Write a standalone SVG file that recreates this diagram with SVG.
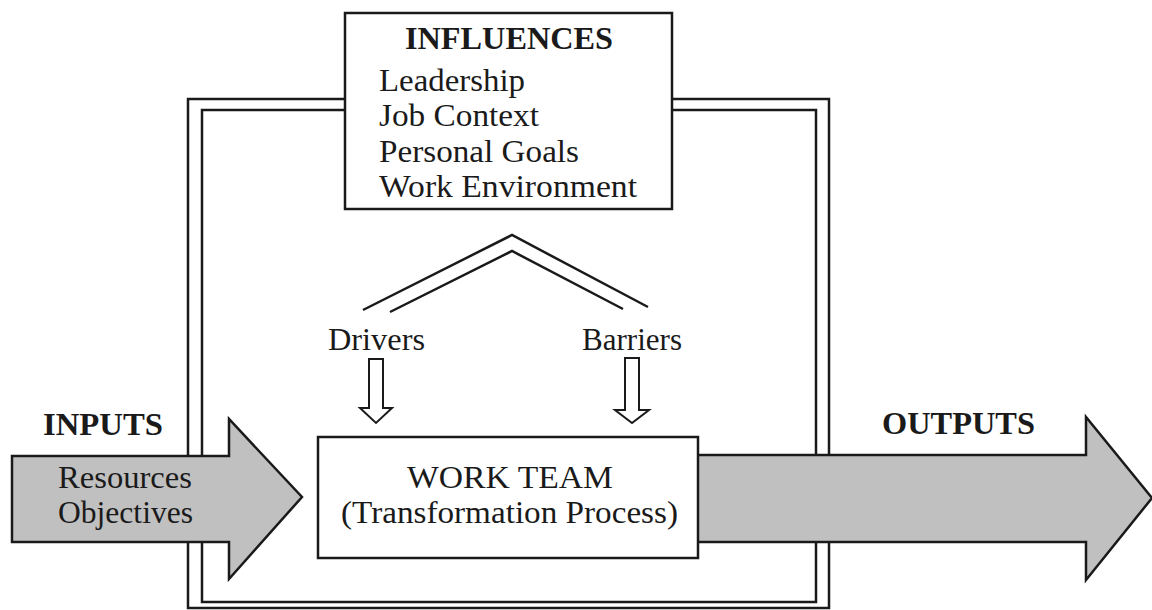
<svg xmlns="http://www.w3.org/2000/svg" width="1152" height="610" viewBox="0 0 1152 610">
<style>
.ln{fill:none;stroke:#1a1a1a;stroke-width:2.5}
.box{fill:#fff;stroke:#1a1a1a;stroke-width:2.5}
.big{fill:#c0c0c0;stroke:#1a1a1a;stroke-width:2.5;stroke-linejoin:miter}
.hol{fill:#fff;stroke:#1a1a1a;stroke-width:2}
.t{font-family:"Liberation Serif","Times New Roman",serif;font-size:31px;fill:#1a1a1a}
.b{font-weight:bold}
</style>
<rect width="1152" height="610" fill="#fff"/>
<g id="frame">
<rect class="ln" x="188" y="99" width="641" height="509"/>
<rect class="ln" x="202" y="110" width="614" height="492"/>
</g>
<g id="connectors">
<polyline class="ln" stroke-width="2" points="363,310 512,235 648,307"/>
<polyline class="ln" stroke-width="2" points="390,312 512,251 623,309"/>
<polygon class="hol" points="369,359 383,359 383,408 392,408 376,423 360,408 369,408"/>
<polygon class="hol" points="625,358 639,358 639,410 649,410 632,423 615,410 625,410"/>
</g>
<g id="inputs">
<polygon class="big" points="12,456 229,456 229,419 302,497 229,579 229,542 12,542"/>
<text class="t b" x="43" y="435" textLength="120" lengthAdjust="spacingAndGlyphs">INPUTS</text>
<text class="t" x="58" y="488" textLength="134" lengthAdjust="spacingAndGlyphs">Resources</text>
<text class="t" x="58" y="523" textLength="135" lengthAdjust="spacingAndGlyphs">Objectives</text>
</g>
<g id="outputs">
<polygon class="big" points="690,455 1086,455 1086,417 1152,498 1086,580 1086,542 690,542"/>
<text class="t b" x="882" y="434" textLength="153" lengthAdjust="spacingAndGlyphs">OUTPUTS</text>
</g>
<g id="influences">
<rect class="box" x="345" y="13" width="327" height="196"/>
<text class="t b" x="405" y="49" textLength="208" lengthAdjust="spacingAndGlyphs">INFLUENCES</text>
<text class="t" x="379" y="91" textLength="146" lengthAdjust="spacingAndGlyphs">Leadership</text>
<text class="t" x="379" y="126" textLength="160" lengthAdjust="spacingAndGlyphs">Job Context</text>
<text class="t" x="379" y="162" textLength="200" lengthAdjust="spacingAndGlyphs">Personal Goals</text>
<text class="t" x="379" y="197" textLength="258" lengthAdjust="spacingAndGlyphs">Work Environment</text>
</g>
<g id="drivers">
<text class="t" x="328" y="350" textLength="97" lengthAdjust="spacingAndGlyphs">Drivers</text>
</g>
<g id="barriers">
<text class="t" x="582" y="350" textLength="100" lengthAdjust="spacingAndGlyphs">Barriers</text>
</g>
<g id="workteam">
<rect class="box" x="318" y="437" width="380" height="121"/>
<text class="t" x="407" y="488" textLength="206" lengthAdjust="spacingAndGlyphs">WORK TEAM</text>
<text class="t" x="341" y="523" textLength="337" lengthAdjust="spacingAndGlyphs">(Transformation Process)</text>
</g>
</svg>
